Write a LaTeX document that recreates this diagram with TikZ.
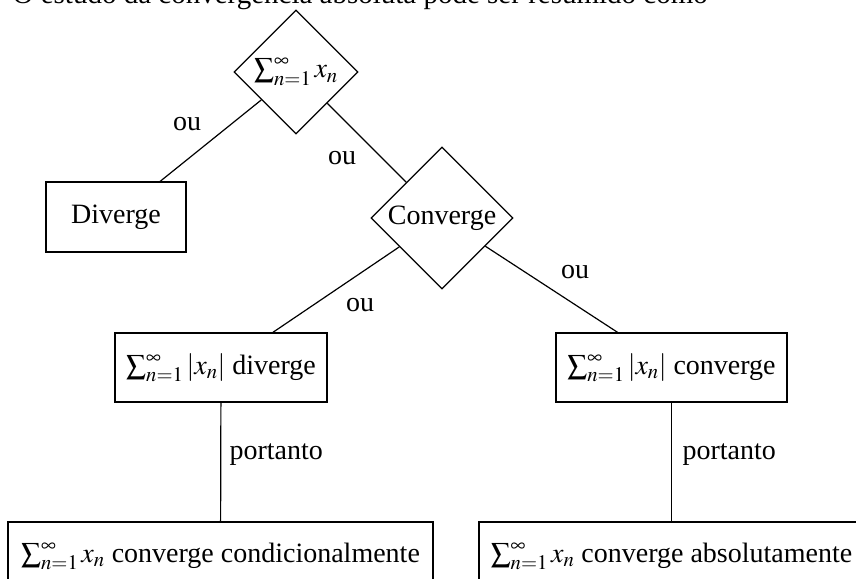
\documentclass[tikz,border=0pt]{standalone}
\usepackage{mathptmx}
\usepackage{fontspec}
\setmainfont{Liberation Serif}
\usetikzlibrary{shapes.geometric}
\begin{document}
\begin{tikzpicture}[x=1pt,y=-1pt,
  font=\fontsize{28}{34}\selectfont,
  line width=1.2pt,
  dec/.style={draw,diamond,aspect=1,inner sep=0pt},
  rbox/.style={draw,rectangle,inner sep=0pt,minimum height=69pt},
  lbl/.style={inner sep=0pt}]
\useasboundingbox (0,0) rectangle (856,578);
\clip (0,0) rectangle (856,578);
\node[anchor=base west,inner sep=0pt,font=\fontsize{29}{34}\selectfont] (intro) at (12,4) {O estudo da convergência absoluta pode ser resumido como};
\node[dec,minimum size=124pt] (top) at (296,72) {$\sum_{n=1}^{\infty} x_n$};
\node[rbox,minimum width=140pt,minimum height=70pt] (div) at (116,217) {Diverge};
\node[dec,minimum size=142pt] (conv) at (442,218) {Converge};
\node[rbox,minimum width=212pt] (ldiv) at (221,367.5) {$\sum_{n=1}^{\infty}|x_n|$ diverge};
\node[rbox,minimum width=231pt] (rconv) at (671.5,367.5) {$\sum_{n=1}^{\infty}|x_n|$ converge};
\node[rbox,minimum width=425pt] (cond) at (220.5,556.5) {$\sum_{n=1}^{\infty} x_n$ converge condicionalmente};
\node[rbox,minimum width=385pt] (abs) at (671.5,556.5) {$\sum_{n=1}^{\infty} x_n$ converge absolutamente};
\draw (top) -- (div);
\draw (top) -- (conv);
\draw (conv) -- (ldiv);
\draw (conv) -- (rconv);
\draw (ldiv) -- (cond);
\draw (rconv) -- (abs);
\node[lbl] (ou1) at (187,124) {ou};
\node[lbl] (ou2) at (342,158) {ou};
\node[lbl] (ou3) at (360,305) {ou};
\node[lbl] (ou4) at (575,272) {ou};
\node[lbl,anchor=west] (p1) at (229,455) {portanto};
\node[lbl,anchor=west] (p2) at (682,455) {portanto};
\end{tikzpicture}
\end{document}
